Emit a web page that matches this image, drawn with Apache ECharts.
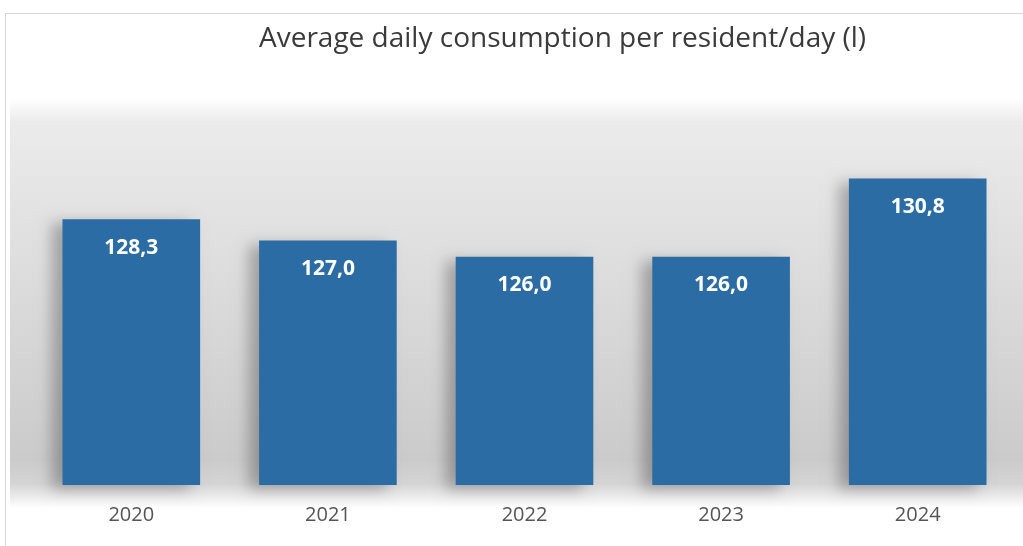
<!DOCTYPE html>
<html>
<head>
<meta charset="utf-8">
<script src="https://cdn.jsdelivr.net/npm/echarts@6/dist/echarts.min.js"></script>
<style>
  html, body { margin: 0; padding: 0; background: #ffffff; }
  #chart { width: 1023px; height: 546px; }
</style>
</head>
<body>
<div id="chart"></div>
<script>
// Average daily water consumption per resident, litres per day
const years = ['2020', '2021', '2022', '2023', '2024'];
const consumption = [128.3, 127.0, 126.0, 126.0, 130.8];

const chart = echarts.init(document.getElementById('chart'));

chart.setOption({
  animation: false,
  backgroundColor: '#ffffff',
  title: {
    text: 'Average daily consumption per resident/day (l)',
    left: 254,
    top: 20,
    textStyle: {
      fontFamily: 'Open Sans',
      fontSize: 28,
      fontWeight: 'normal',
      color: '#3a3a3a'
    }
  },
  graphic: [
    {
      // back wall and floor shading
      type: 'rect',
      z: -10,
      silent: true,
      shape: { x: 10, y: 98, width: 1013, height: 410 },
      style: {
        fill: new echarts.graphic.LinearGradient(0, 0, 0, 1, [
          { offset: 0.0, color: '#ffffff' },
          { offset: 0.06, color: '#ebebeb' },
          { offset: 0.45, color: '#dcdcdc' },
          { offset: 0.88, color: '#cbcbcb' },
          { offset: 0.94, color: '#d4d4d4' },
          { offset: 1.0, color: '#ffffff' }
        ])
      }
    },
    {
      // chart frame
      type: 'rect',
      z: -9,
      silent: true,
      shape: { x: 5.5, y: 13.5, width: 1030, height: 545 },
      style: { fill: 'none', stroke: '#d6d6d6', lineWidth: 1 }
    }
  ],
  grid: {
    left: 33,
    right: 7,
    top: 159,
    bottom: 61
  },
  xAxis: {
    type: 'category',
    data: years,
    axisLine: { show: false },
    axisTick: { show: false },
    axisLabel: {
      margin: 20,
      fontFamily: 'Open Sans',
      fontSize: 20,
      color: '#555555'
    }
  },
  yAxis: {
    type: 'value',
    min: 112,
    max: 132,
    show: false,
    splitLine: { show: false }
  },
  series: [
    {
      type: 'bar',
      data: consumption,
      barWidth: '70%',
      itemStyle: {
        color: '#2b6ca4',
        shadowColor: 'rgba(0,0,0,0.28)',
        shadowBlur: 14,
        shadowOffsetX: -10,
        shadowOffsetY: 4
      },
      label: {
        show: true,
        position: 'insideTop',
        distance: 18,
        fontFamily: 'Open Sans',
        fontWeight: 'bold',
        fontSize: 21,
        color: '#ffffff',
        formatter: p => p.value.toFixed(1).replace('.', ',')
      }
    }
  ]
});
</script>
</body>
</html>
